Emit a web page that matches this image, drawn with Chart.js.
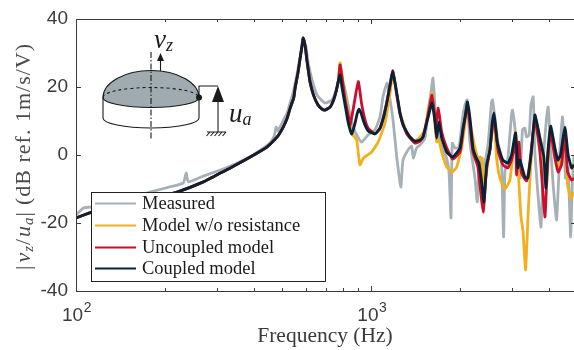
<!DOCTYPE html>
<html>
<head>
<meta charset="utf-8">
<title>Frequency response</title>
<script src="https://cdn.jsdelivr.net/npm/chart.js@4"></script>
<style>
  html, body { margin: 0; padding: 0; background: #fff; }
  canvas { display: block; }
</style>
</head>
<body>
<canvas id="chart" width="574" height="350"></canvas>
<script>
/* Values, frequency in Hz, level in dB. */
const lowFreq = [100, 113, 121, 141, 165, 193, 220, 270, 308, 333, 389, 444, 480, 503, 519, 531, 546, 552, 565, 574, 583, 588, 597, 605, 613, 620, 637, 660, 681, 697, 725, 745, 760, 774];
const lowDb = [-18.5, -16.8, -15.9, -14.4, -13.2, -12.1, -10.9, -7.9, -5.3, -3.8, -0.6, 2.4, 5.3, 8.2, 10.9, 13.8, 16.8, 19.7, 24.4, 28.5, 32.4, 34.4, 32.1, 27.9, 24.4, 21.5, 17.6, 14.7, 13.5, 13.2, 14.1, 16.2, 18.8, 22];

const measuredFreq = [100, 106, 112, 121, 141, 165, 178, 208, 231, 236, 240, 270, 308, 351, 398, 454, 469, 476, 483, 498, 519, 531, 546, 561, 587, 601, 611, 630, 655, 697, 736, 766, 784, 815, 847, 881, 926, 975, 1029, 1070, 1095, 1130, 1148, 1184, 1219, 1250, 1260, 1280, 1331, 1370, 1387, 1424, 1461, 1519, 1555, 1592, 1617, 1652, 1681, 1730, 1799, 1832, 1861, 1879, 1919, 1980, 2037, 2075, 2110, 2157, 2243, 2284, 2314, 2336, 2373, 2482, 2553, 2573, 2621, 2683, 2725, 2759, 2804, 2834, 2900, 2983, 3005, 3063, 3127, 3185, 3249, 3311, 3355, 3423, 3470, 3532, 3579, 3750, 3819, 3920, 3970, 4054, 4127, 4238, 4348, 4439, 4545, 4639, 4729, 4790, 4855];
const measuredDb = [-17.6, -15.6, -15.3, -14.7, -13.2, -11.8, -10.9, -9.4, -8.2, -5.3, -7.9, -6.2, -4.4, -2.4, 0, 3.5, 5.6, 8.2, 7.1, 9.4, 12.4, 15.3, 19.1, 24.1, 32.9, 31.8, 27.1, 22.1, 17.6, 15.3, 16.2, 20, 24.1, 19.1, 11.8, 6.8, 3.8, 5.9, 7.4, 11.2, 17.1, 21.2, 18.2, 10.3, -0.6, -8.2, -9.4, -1.5, 1.5, 2.6, -0.9, 2.1, 2.9, 5, 12.6, 18.5, 22.6, 10.9, 5.9, 2.4, -0.9, -5, -18.5, 3.5, 2.1, 2.1, 10.9, 14.7, 16.2, 3.8, -6.8, -13.8, -2.9, -0.6, -5.9, 2.9, 15.6, 16.2, 10.9, 3.8, 0.9, -1.5, -24.1, -5, -0.9, 11.8, 13.2, 7.9, -2.9, -6.8, 7.4, 7.9, 5.3, 5.9, 14.7, 17.1, 0.9, -21.2, -2.1, 10.9, 14.1, 0.9, -8.8, -19.1, 0.9, 11.2, -6.8, -3.8, -24.1, -8.8, 0];

const noResistFreq = [784, 815, 847, 867, 892, 915, 940, 1003, 1054, 1113, 1157, 1181, 1203, 1250, 1318, 1405, 1461, 1519, 1555, 1605, 1630, 1664, 1694, 1730, 1799, 1879, 1945, 2022, 2115, 2157, 2243, 2314, 2373, 2406, 2457, 2601, 2656, 2725, 2834, 2945, 3019, 3079, 3141, 3206, 3264, 3329, 3397, 3488, 3579, 3771, 3920, 4045, 4238, 4314, 4460, 4521, 4619, 4740, 4855];
const noResistDb = [27.1, 17.1, 9.4, 5.9, 4.4, -2.9, -0.9, 0.9, 3.8, 9.4, 18.2, 24.1, 21.2, 12.7, 6.5, 4.1, 5.3, 7.4, 12.6, 18.5, 12.6, 3.8, 4.4, 0.9, -3.5, -5, -3.5, 2.1, 14.1, 9.7, 2.1, -1.5, -0.9, -8.8, -5, 10.9, -0.9, -6.8, -10, -7.4, 0.9, 6.8, -3.8, -17.6, -22.6, -33.8, -16.8, 0.9, 10.9, 2.9, -8.8, 8.2, -1.5, -3.8, 3.8, 6.8, -8.8, -12.9, -10.9];

const uncoupledFreq = [784, 815, 841, 847, 867, 903, 926, 952, 975, 1029, 1070, 1127, 1157, 1181, 1203, 1250, 1318, 1405, 1461, 1496, 1555, 1605, 1643, 1652, 1685, 1730, 1799, 1888, 1996, 2043, 2115, 2208, 2295, 2390, 2457, 2521, 2601, 2691, 2790, 2900, 2983, 3079, 3103, 3158, 3224, 3355, 3443, 3579, 3721, 3869, 3951, 4045, 4183, 4291, 4405, 4521, 4619, 4767, 4855];
const uncoupledDb = [26.5, 16.2, 10.3, 8.8, 13.2, 21.6, 15.3, 10.3, 7.9, 6.2, 7.9, 15.3, 20.6, 24.8, 21, 12.1, 6.2, 3.5, 4.1, 5.3, 11.8, 17.6, 10.9, 7.9, 13.8, 6.8, 2.1, -1.2, 0.9, 6.8, 14.7, 0.9, -3.5, -16.8, -3.8, 1.5, 11.2, 0.9, -2.9, -3.8, -1.5, 3.8, -5.9, 3.8, -5.3, -7.6, -2.1, 10.3, 0.9, -18.2, -2.1, 6.8, -0.9, -5, -2.9, 5.9, -5, -7.4, -6.8];

const coupledFreq = [784, 796, 815, 834, 847, 858, 881, 895, 909, 922, 938, 952, 975, 1029, 1070, 1104, 1127, 1157, 1170, 1181, 1193, 1203, 1227, 1250, 1280, 1318, 1352, 1405, 1461, 1496, 1519, 1555, 1605, 1643, 1664, 1694, 1730, 1799, 1888, 1996, 2043, 2083, 2115, 2157, 2208, 2260, 2314, 2363, 2406, 2457, 2521, 2561, 2601, 2631, 2668, 2725, 2790, 2900, 2983, 3079, 3134, 3185, 3311, 3389, 3488, 3579, 3721, 3839, 3899, 3960, 4045, 4183, 4281, 4371, 4521, 4639, 4767, 4855];
const coupledDb = [23.5, 19.7, 14.7, 9.7, 7.4, 6.2, 9.4, 12.1, 13.5, 12.4, 10.3, 8.8, 7.1, 6.2, 7.9, 11.5, 15.3, 20.6, 22.9, 24.5, 22.9, 21.2, 16.8, 12.4, 8.8, 6.8, 5.3, 4.1, 4.4, 5.3, 7.4, 10.9, 15.3, 9.7, 5, 9.7, 5, 0.9, -0.6, 2.1, 7.9, 11.8, 15.6, 10.9, 2.1, -0.6, -2.4, -7.9, -13.8, -2.9, 1.5, 8.8, 12.4, 8.8, 3.8, 0.9, -1.5, -2.4, 0, 6.5, -3.8, -1.5, -6.5, -6.8, 1.5, 11.8, 5, -0.6, -9.7, 0.9, 8.5, 2.1, -1.5, 0, 8.2, 0, -3.8, -2.9];

const xTicks = [100, 200, 300, 400, 500, 600, 700, 800, 900, 1000, 2000, 3000, 4000];
const xMajor = [100, 1000];
const xLabels = [["10", "2"], ["10", "3"]];
const yTicks = [-40, -20, 0, 20, 40];

const INK = "#3a3a3a";
const SERIF = "'Liberation Serif', serif";

function toPoints(freq, db) {
  return freq.map((f, i) => ({ x: f, y: db[i] }));
}

// the three models share the low frequency part up to the second peak
function withLow(freq, db) {
  return toPoints(lowFreq.concat(freq), lowDb.concat(db));
}

function series(label, color, data, order) {
  return { label, data, order, borderColor: color, backgroundColor: color, borderWidth: 2.8, pointRadius: 0, tension: 0.15, borderJoinStyle: "round" };
}

function drawRuns(ctx, runs, x, y) {
  for (const r of runs) {
    ctx.font = r.font;
    ctx.fillText(r.text, x, y + (r.dy || 0));
    x += ctx.measureText(r.text).width + (r.gap || 0);
  }
}

function arrow(ctx, x, y0, y1, w, len) {
  ctx.beginPath(); ctx.moveTo(x, y0); ctx.lineTo(x, y1 + len); ctx.stroke();
  ctx.beginPath(); ctx.moveTo(x, y1); ctx.lineTo(x - w / 2, y1 + len); ctx.lineTo(x + w / 2, y1 + len); ctx.closePath(); ctx.fill();
}

function drawFrame(chart) {
  const ctx = chart.ctx, a = chart.chartArea, sx = chart.scales.x, sy = chart.scales.y;
  ctx.save();
  ctx.strokeStyle = INK; ctx.lineWidth = 1;
  ctx.beginPath();
  ctx.moveTo(a.left + .5, a.top); ctx.lineTo(a.left + .5, a.bottom + .5); ctx.lineTo(a.right, a.bottom + .5);
  ctx.moveTo(a.left, a.top + .5); ctx.lineTo(a.right, a.top + .5);
  for (const v of xTicks) {
    const x = Math.round(sx.getPixelForValue(v)) + .5;
    const len = xMajor.includes(v) ? 5 : 3;
    ctx.moveTo(x, a.bottom); ctx.lineTo(x, a.bottom - len);
    ctx.moveTo(x, a.top); ctx.lineTo(x, a.top + len);
  }
  for (const v of yTicks) {
    const y = Math.round(sy.getPixelForValue(v)) + .5;
    ctx.moveTo(a.left, y); ctx.lineTo(a.left + 5, y);
    ctx.moveTo(a.right, y); ctx.lineTo(a.right - 3, y);
  }
  ctx.stroke();

  // decade labels on the frequency axis
  ctx.fillStyle = INK; ctx.textAlign = "left"; ctx.textBaseline = "alphabetic";
  xMajor.forEach((v, i) => {
    const x = sx.getPixelForValue(v) - 14;
    drawRuns(ctx, [
      { text: xLabels[i][0], font: "19px 'Liberation Sans', sans-serif", gap: 0.5 },
      { text: xLabels[i][1], font: "14px 'Liberation Sans', sans-serif", dy: -9 },
    ], x, 321);
  });

  // level axis title, has italics and subscripts so it is set by hand
  ctx.save();
  ctx.translate(30, 270);
  ctx.rotate(-Math.PI / 2);
  ctx.fillStyle = "#4a4a4a";
  ctx.letterSpacing = "1px";
  const big = "22px " + SERIF, it = "italic 22px " + SERIF, sub = "italic 15px " + SERIF;
  drawRuns(ctx, [
    { text: "|", font: big, gap: 2 },
    { text: "v", font: it },
    { text: "z", font: sub, dy: 3 },
    { text: "/", font: big, gap: 1 },
    { text: "u", font: it },
    { text: "a", font: sub, dy: 3 },
    { text: "|", font: big, gap: 6 },
    { text: "(dB ref. 1m/s/V)", font: big },
  ], 0, 0);
  ctx.restore();
  ctx.restore();
}

function drawLegend(chart) {
  const ctx = chart.ctx;
  const rows = [203, 225, 247, 268];
  ctx.save();
  ctx.fillStyle = "#fff"; ctx.strokeStyle = "#222"; ctx.lineWidth = 1;
  ctx.fillRect(91, 192, 234, 89);
  ctx.strokeRect(91.5, 192.5, 234, 89);
  ctx.textAlign = "left"; ctx.textBaseline = "middle"; ctx.font = "18.5px " + SERIF;
  chart.data.datasets.forEach((d, i) => {
    ctx.strokeStyle = d.borderColor; ctx.lineWidth = 2;
    ctx.beginPath(); ctx.moveTo(95, rows[i] + .5); ctx.lineTo(136, rows[i] + .5); ctx.stroke();
    ctx.fillStyle = "#1a1a1a";
    ctx.fillText(d.label, 142, rows[i] + 1);
  });
  ctx.restore();
}

function drawInset(chart) {
  const ctx = chart.ctx;
  const cx = 151, cy = 97.5, rx = 48;
  ctx.save();
  ctx.strokeStyle = "#1a1a1a"; ctx.fillStyle = "#1a1a1a"; ctx.lineWidth = 1.1;

  // dome with its front rim
  ctx.beginPath();
  ctx.ellipse(cx, cy, rx, 27, 0, Math.PI, 2 * Math.PI);
  ctx.ellipse(cx, cy, rx, 10, 0, 0, Math.PI);
  ctx.closePath();
  ctx.fillStyle = "#9fabb1"; ctx.fill(); ctx.stroke();
  ctx.fillStyle = "#1a1a1a";

  // back rim
  ctx.setLineDash([3, 3]);
  ctx.beginPath(); ctx.ellipse(cx, cy, rx, 10, 0, Math.PI, 2 * Math.PI); ctx.stroke();
  ctx.setLineDash([]);

  // cylinder
  ctx.beginPath();
  ctx.moveTo(cx - rx, cy); ctx.lineTo(cx - rx, 118);
  ctx.ellipse(cx, 118, rx, 10, 0, Math.PI, 0, true);
  ctx.lineTo(cx + rx, cy);
  ctx.stroke();

  // axis
  ctx.setLineDash([6, 2, 1.5, 2]);
  ctx.beginPath(); ctx.moveTo(cx, 52); ctx.lineTo(cx, 139); ctx.stroke();
  ctx.setLineDash([]);

  arrow(ctx, 160.5, 71, 53, 7, 8);

  // electrode wire and voltage arrow
  ctx.beginPath(); ctx.arc(199, 97.5, 3, 0, 2 * Math.PI); ctx.fill();
  ctx.beginPath(); ctx.moveTo(199, 97); ctx.lineTo(199, 86); ctx.lineTo(218, 86); ctx.stroke();
  arrow(ctx, 218, 132, 86, 12, 16);
  ctx.beginPath(); ctx.moveTo(207, 132); ctx.lineTo(226, 132);
  for (let x = 210; x <= 226; x += 4) { ctx.moveTo(x, 132); ctx.lineTo(x - 3.5, 136); }
  ctx.stroke();

  ctx.textAlign = "left"; ctx.textBaseline = "alphabetic";
  const it = "italic 27px " + SERIF, sub = "italic 18px " + SERIF;
  drawRuns(ctx, [{ text: "v", font: it }, { text: "z", font: sub, dy: 3 }], 154, 47.5);
  drawRuns(ctx, [{ text: "u", font: it }, { text: "a", font: sub, dy: 3 }], 229, 121.5);
  ctx.restore();
}

const overlay = {
  id: "overlay",
  afterDraw(chart) {
    drawFrame(chart);
    drawInset(chart);
    drawLegend(chart);
  },
};

new Chart(document.getElementById("chart"), {
  type: "line",
  data: {
    datasets: [
      series("Measured", "#a5b1b7", toPoints(measuredFreq, measuredDb), 4),
      series("Model w/o resistance", "#f2b01e", withLow(noResistFreq, noResistDb), 3),
      series("Uncoupled model", "#c8102e", withLow(uncoupledFreq, uncoupledDb), 2),
      series("Coupled model", "#0b2136", withLow(coupledFreq, coupledDb), 1),
    ],
  },
  options: {
    responsive: false, animation: false,
    layout: { padding: { top: 19, left: 0, right: 0, bottom: 0 } },
    plugins: { legend: { display: false }, tooltip: { enabled: false } },
    scales: {
      x: {
        type: "logarithmic", min: 100, max: 4855,
        grid: { display: false }, border: { display: false },
        ticks: { display: false },
        title: { display: true, text: "Frequency (Hz)", color: "#3a3a3a", font: { family: "'Liberation Serif', serif", size: 21.5 }, padding: { top: 0, bottom: 1 } },
        afterFit(s) { s.height = 59; },
      },
      y: {
        min: -40, max: 40,
        grid: { display: false }, border: { display: false },
        ticks: { stepSize: 20, color: INK, padding: 0, font: { family: "'Liberation Sans', sans-serif", size: 19 } },
        afterFit(s) { s.width = 76; },
      },
    },
  },
  plugins: [overlay],
});
</script>
</body>
</html>
